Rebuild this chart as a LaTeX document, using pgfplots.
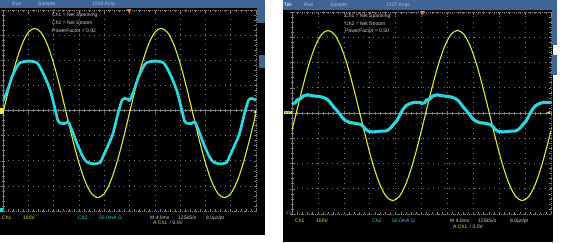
\documentclass[border=0pt]{standalone}
\usepackage{pgfplots}
\pgfplotsset{compat=1.18}
\usepackage{fontspec}
\setmainfont{Liberation Sans}
\definecolor{scopeyellow}{RGB}{232,232,48}
\definecolor{scopecyan}{RGB}{40,216,224}
\definecolor{barblue}{RGB}{62,100,148}
\definecolor{bartext}{RGB}{175,195,220}
\definecolor{gridgray}{RGB}{125,125,125}
\definecolor{trigorange}{RGB}{235,120,60}
\definecolor{labwhite}{RGB}{215,215,215}
\pgfplotsset{
  scopebase/.style={scale only axis, xmin=0, xmax=10, ymin=-4, ymax=4,
    xtick={0,1,...,10}, ytick={-4,-3,...,4}, minor x tick num=4, minor y tick num=4,
    xticklabels={}, yticklabels={},
    tick style={gridgray, line width=0.5pt}},
  scopegrid/.style={scopebase, grid=major,
    major grid style={gridgray, line width=0.6pt, dash pattern=on 0.6pt off 4.45pt},
    axis line style={gridgray, line width=0.6pt, dash pattern=on 0.6pt off 1.4pt},
    tick align=inside, major tick length=2.5pt, minor tick length=2pt},
  scopecenter/.style={scopebase, axis lines=middle, axis line style={gridgray, line width=0.5pt, -},
    tick align=center, major tick length=4pt, minor tick length=3pt},
  ch1/.style={scopeyellow, line width=1.1pt, smooth},
  ch2/.style={scopecyan, line width=2.7pt, smooth},
}
\begin{document}
\begin{tikzpicture}
\path[use as bounding box] (0,0) rectangle (563pt,242pt);
\fill[white] (0,0) rectangle (563pt,242pt);
% left panel
\fill[black] (0,7pt) rectangle (265pt,242pt);
\fill[barblue] (0,234pt) rectangle (265pt,242pt);
\fill[barblue] (257pt,219pt) rectangle (265pt,242pt);
\fill[barblue] (259pt,174pt) rectangle (265pt,187pt);
% right panel
\fill[black] (283pt,0) rectangle (553pt,242pt);
\fill[barblue] (283pt,232pt) rectangle (557pt,242pt);
\fill[barblue] (552pt,197pt) rectangle (557pt,242pt);
\fill[barblue] (552pt,167pt) rectangle (557pt,187pt);

% ---------- left screen ----------
\begin{axis}[scopecenter, at={(3pt,31pt)}, anchor=south west, width=253pt, height=201pt]
\end{axis}
\begin{axis}[scopegrid, at={(3pt,31pt)}, anchor=south west, width=253pt, height=201pt]
\addplot[ch1] coordinates {(0,-0.10)(0.25,0.94)(0.5,1.88)(0.75,2.63)(1,3.11)(1.25,3.27)(1.5,3.11)(1.75,2.63)(2,1.88)(2.25,0.94)(2.5,-0.10)(2.75,-1.14)(3,-2.08)(3.25,-2.83)(3.5,-3.31)(3.75,-3.47)(4,-3.31)(4.25,-2.83)(4.5,-2.08)(4.75,-1.14)
(5,-0.10)(5.25,0.94)(5.5,1.88)(5.75,2.63)(6,3.11)(6.25,3.27)(6.5,3.11)(6.75,2.63)(7,1.88)(7.25,0.94)(7.5,-0.10)(7.75,-1.14)(8,-2.08)(8.25,-2.83)(8.5,-3.31)(8.75,-3.47)(9,-3.31)(9.25,-2.83)(9.5,-2.08)(9.75,-1.14)(10,-0.10)};
\addplot[ch2] coordinates {(0.00,0.40)(0.16,0.75)(0.36,1.35)(0.55,1.74)(0.67,1.90)(0.87,1.95)(1.07,1.96)(1.34,1.90)(1.58,1.50)(1.86,0.82)(2.06,0.05)(2.17,-0.40)(2.25,-0.50)(2.45,-0.52)(2.57,-0.45)(2.65,-0.60)(2.77,-0.90)(2.96,-1.40)(3.16,-1.84)(3.32,-2.05)(3.56,-2.12)(3.83,-2.08)(3.95,-1.84)(4.15,-1.40)(4.35,-0.90)(4.55,-0.10)(4.70,0.40)(4.82,0.48)(4.94,0.45)
(5.00,0.40)(5.16,0.75)(5.36,1.35)(5.55,1.74)(5.67,1.90)(5.87,1.95)(6.07,1.96)(6.34,1.90)(6.58,1.50)(6.86,0.82)(7.06,0.05)(7.17,-0.40)(7.25,-0.50)(7.45,-0.52)(7.57,-0.45)(7.65,-0.60)(7.77,-0.90)(7.96,-1.40)(8.16,-1.84)(8.32,-2.05)(8.56,-2.12)(8.83,-2.08)(8.95,-1.84)(9.15,-1.40)(9.35,-0.90)(9.55,-0.10)(9.70,0.40)(9.82,0.48)(9.94,0.45)(10.00,0.40)};
\end{axis}

% ---------- right screen ----------
\begin{axis}[scopecenter, at={(292pt,28pt)}, anchor=south west, width=259pt, height=202pt]
\end{axis}
\begin{axis}[scopegrid, at={(292pt,28pt)}, anchor=south west, width=259pt, height=202pt]
\addplot[ch1] coordinates {(0,-0.69)(0.14,-0.10)(0.39,0.94)(0.64,1.88)(0.89,2.63)(1.14,3.11)(1.39,3.27)(1.64,3.11)(1.89,2.63)(2.14,1.88)(2.39,0.94)(2.64,-0.10)(2.89,-1.14)(3.14,-2.08)(3.39,-2.83)(3.64,-3.31)(3.89,-3.47)(4.14,-3.31)(4.39,-2.83)(4.64,-2.08)(4.89,-1.14)
(5.14,-0.10)(5.39,0.94)(5.64,1.88)(5.89,2.63)(6.14,3.11)(6.39,3.27)(6.64,3.11)(6.89,2.63)(7.14,1.88)(7.39,0.94)(7.64,-0.10)(7.89,-1.14)(8.14,-2.08)(8.39,-2.83)(8.64,-3.31)(8.89,-3.47)(9.14,-3.31)(9.39,-2.83)(9.64,-2.08)(9.89,-1.14)(10,-0.69)};
\addplot[ch2, line width=3.1pt] coordinates {(0.00,0.38)(0.12,0.40)(0.20,0.52)(0.31,0.55)(0.45,0.68)(0.60,0.72)(0.80,0.68)(1.00,0.66)(1.20,0.62)(1.35,0.55)(1.47,0.43)(1.60,0.25)(1.73,0.10)(1.85,-0.05)(1.97,-0.22)(2.10,-0.32)(2.24,-0.38)(2.40,-0.40)(2.55,-0.43)(2.65,-0.45)(2.74,-0.52)(2.85,-0.65)(2.95,-0.72)(3.15,-0.75)(3.40,-0.72)(3.60,-0.72)(3.70,-0.68)(3.80,-0.60)(3.92,-0.45)(4.05,-0.30)(4.18,-0.05)(4.29,0.15)(4.42,0.30)(4.56,0.38)(4.75,0.42)(4.94,0.42)
(5.00,0.38)(5.12,0.40)(5.20,0.52)(5.31,0.55)(5.45,0.68)(5.60,0.72)(5.80,0.68)(6.00,0.66)(6.20,0.62)(6.35,0.55)(6.47,0.43)(6.60,0.25)(6.73,0.10)(6.85,-0.05)(6.97,-0.22)(7.10,-0.32)(7.24,-0.38)(7.40,-0.40)(7.55,-0.43)(7.65,-0.45)(7.74,-0.52)(7.85,-0.65)(7.95,-0.72)(8.15,-0.75)(8.40,-0.72)(8.60,-0.72)(8.70,-0.68)(8.80,-0.60)(8.92,-0.45)(9.05,-0.30)(9.18,-0.05)(9.29,0.15)(9.42,0.30)(9.56,0.38)(9.75,0.42)(9.94,0.42)(10.00,0.40)};
\end{axis}

% markers
\fill[scopeyellow] (0,128pt) rectangle (4pt,134pt);
\fill[trigorange] (126.5pt,233pt) -- (131.5pt,233pt) -- (129pt,229pt) -- cycle;
\fill[scopecyan] (0,30pt) rectangle (3pt,34pt);
\fill[scopeyellow] (253pt,130pt) -- (256pt,128.5pt) -- (256pt,131.5pt) -- cycle;
\node[fill=scopeyellow, text=black, inner sep=0.6pt, font=\fontsize{4}{4}\selectfont, anchor=west] at (284pt,129.5pt) {1\,$\triangleright$};
\fill[trigorange] (420pt,231pt) -- (425pt,231pt) -- (422.5pt,227pt) -- cycle;
\node[text=scopecyan, inner sep=0pt, font=\fontsize{4.5}{5}\selectfont, anchor=west] at (286pt,29pt) {2\,$\triangleright$};
\fill[scopeyellow] (547pt,129.5pt) -- (550pt,128pt) -- (550pt,131pt) -- cycle;

% top bar texts
\begin{scope}[every node/.style={inner sep=0pt, anchor=west, font=\fontsize{5}{6}\selectfont}]
\node[text=bartext] at (12pt,238pt) {Run};
\node[text=bartext] at (38pt,238pt) {Sample};
\node[text=bartext] at (92pt,238pt) {1504 Acqs};
\node[text=white] at (284pt,237pt) {Tek};
\node[text=bartext] at (304pt,237pt) {Run};
\node[text=bartext] at (330pt,237pt) {Sample};
\node[text=bartext] at (386pt,237pt) {1327 Acqs};
% overlay texts
\node[text=labwhite] at (52pt,227pt) {Ch1 = Net Spanning};
\node[text=labwhite] at (52pt,219pt) {Ch2 = Net Stroom};
\node[text=labwhite] at (52pt,211pt) {PowerFactor = 0.92};
\node[text=labwhite] at (345pt,226pt) {Ch1 = Net Spanning};
\node[text=labwhite] at (345pt,218pt) {Ch2 = Net Stroom};
\node[text=labwhite] at (345pt,211pt) {PowerFactor = 0.50};
% bottom texts left
\node[text=scopeyellow] at (2pt,24pt) {Ch1};
\node[text=scopeyellow] at (23pt,24pt) {100V};
\node[text=scopecyan] at (78pt,24pt) {Ch2};
\node[text=scopecyan] at (99pt,24pt) {50.0mA\,\,Ω};
\node[text=labwhite] at (150pt,24pt) {M 4.0ms};
\node[text=labwhite] at (178pt,24pt) {125kS/s};
\node[text=labwhite] at (206pt,24pt) {8.0µs/pt};
\node[text=labwhite] at (153pt,19pt) {A \textcolor{scopeyellow}{Ch1}\,\,\,/\,\,0.0V};
% bottom texts right
\node[text=scopeyellow] at (295pt,21pt) {Ch1};
\node[text=scopeyellow] at (316pt,21pt) {100V};
\node[text=scopecyan] at (372pt,21pt) {Ch2};
\node[text=scopecyan] at (392pt,21pt) {50.0mA\,\,Ω};
\node[text=labwhite] at (450pt,21pt) {M 4.0ms};
\node[text=labwhite] at (478pt,21pt) {125kS/s};
\node[text=labwhite] at (510pt,21pt) {8.0µs/pt};
\node[text=labwhite] at (453pt,15pt) {A \textcolor{scopeyellow}{Ch1}\,\,\,/\,\,0.0V};
\end{scope}
\end{tikzpicture}
\end{document}
